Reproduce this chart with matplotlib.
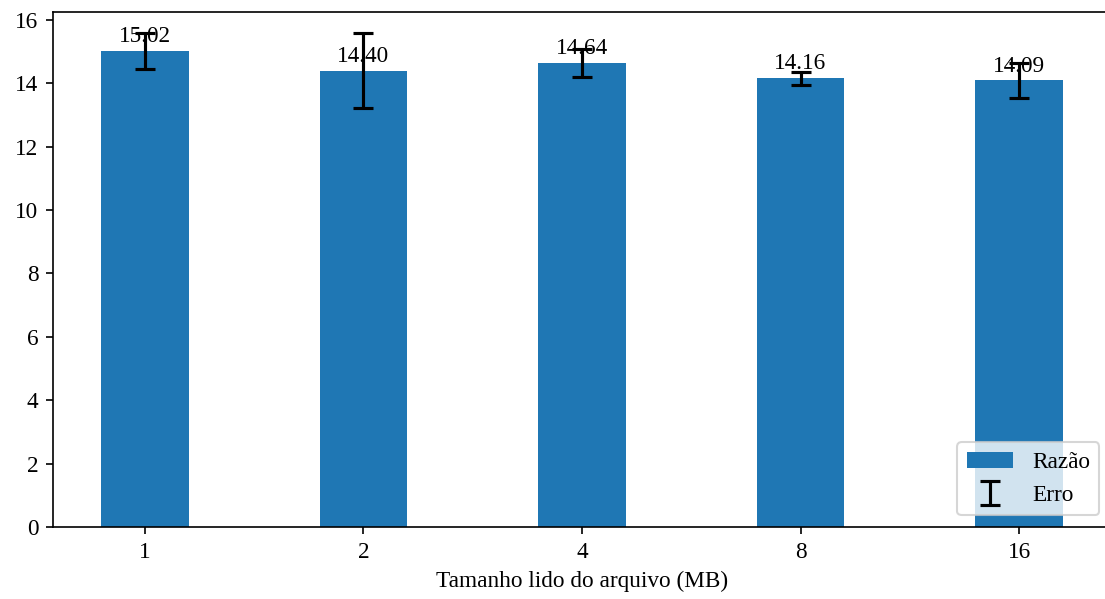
import matplotlib.pyplot as plt
import numpy as np

plt.rcParams['font.family'] = ['Liberation Serif', 'DejaVu Serif']
plt.rcParams['font.size'] = 11.2

tamanhos = ['1', '2', '4', '8', '16']
razao = [15.02, 14.40, 14.64, 14.16, 14.09]
erro = [0.58, 1.18, 0.45, 0.21, 0.54]

x = np.arange(len(tamanhos))

fig = plt.figure(figsize=(1105 / 150, 599 / 150), dpi=150)
# o eixo passa um pouco da borda direita, como na figura original
ax = fig.add_axes([53 / 1105, 72 / 599, 1058 / 1105, 515 / 599])

ax.bar(x, razao, width=0.4, color='#1f77b4', label='Razão')
ax.errorbar(x, razao, yerr=erro, fmt='none', ecolor='black',
            elinewidth=1.5, capsize=5, capthick=1.5, label='Erro')

for xi, v in zip(x, razao):
    ax.text(xi, v + 0.12, f'{v:.2f}', ha='center', va='bottom')

ax.set_xticks(x)
ax.set_xticklabels(tamanhos)
ax.set_xlim(-0.42, 4.42)
ax.set_ylim(0, 16.25)
ax.set_yticks(np.arange(0, 17, 2))
ax.set_xlabel('Tamanho lido do arquivo (MB)')
ax.legend(loc='lower right')

fig.savefig('out.png', dpi=150)
